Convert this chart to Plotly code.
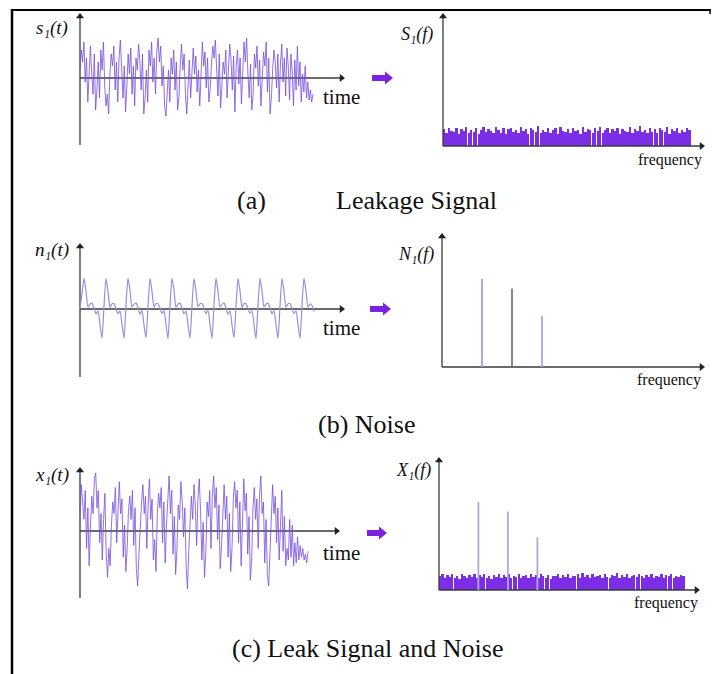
import plotly.graph_objects as go

W, H = 712, 674

# ---------------- data ----------------
s1_values = [0.2, 0.7, 0.4, 0.9, -0.1, 0.5, -0.6, 0.3, 0.8, 0.1, -0.4, 0.6, -0.8, -0.3, 0.4, -0.5, 0.7, 0.2, 0.9, -0.2,
             -0.7, -0.4, -0.9, 0.1, 0.6, 0.3, 0.8, -0.3, 0.4, -0.6, 0.5, 0.95, 0.2, -0.5, 0.3, -0.85, -0.2, 0.6, 0.1, 0.75,
             -0.4, 0.3, -0.7, 0.5, 0.2, 0.85, 0.4, -0.3, 0.6, -0.9, -0.5, 0.2, -0.6, 0.7, 0.3, 0.9, -0.1, 0.5, -0.4, 0.65,
             1.0, 0.4, 0.8, -0.2, 0.3, -0.7, -0.95, -0.4, 0.2, -0.6, 0.5, 0.1, 0.7, -0.3, 0.4, -0.8, -0.5, 0.3, 0.85, 0.2,
             0.6, -0.4, -0.9, -0.2, 0.45, -0.5, 0.3, 0.75, 0.1, 0.55, -0.35, 0.2, -0.7, 0.4, 0.9, 0.3, 0.65, -0.25, 0.5, -0.6,
             -0.3, 0.35, 0.8, 0.5, 0.95, 0.2, -0.45, 0.6, -0.75, -0.2, 0.4, 0.1, 0.7, -0.5, 0.25, 0.85, 0.45, -0.3, 0.55, -0.85,
             0.3, 0.7, -0.15, 0.5, -0.65, 0.2, 0.9, 0.4, 1.0, 0.1, -0.5, 0.35, -0.8, -0.4, 0.6, 0.25, 0.8, -0.2, 0.45, -0.7,
             0.15, 0.65, 0.3, 0.9, -0.35, 0.5, -0.9, -0.5, 0.2, 0.7, 0.4, -0.25, 0.6, -0.6, 0.35, 0.85, -0.1, 0.5, -0.45, 0.75,
             0.3, -0.55, 0.6, 0.2, -0.7, 0.45, -0.3, 0.8, -0.2, 0.4, -0.6, 0.1, -0.35, 0.3, -0.5, -0.1, -0.55, -0.3, -0.6, -0.4]

n1_values = [0.0, 0.5,
             1.0, 0.58, 0.06, 0.16, 0.19, 0.03, -0.16, -0.06, -0.52, -0.94, 0.10,
             0.98, 0.57, 0.05, 0.17, 0.18, 0.02, -0.15, -0.07, -0.50, -0.95, 0.12,
             1.0, 0.59, 0.07, 0.15, 0.20, 0.04, -0.17, -0.05, -0.53, -0.93, 0.09,
             0.99, 0.56, 0.06, 0.18, 0.17, 0.03, -0.14, -0.06, -0.51, -0.96, 0.11,
             1.0, 0.60, 0.05, 0.16, 0.19, 0.02, -0.16, -0.07, -0.52, -0.94, 0.10,
             0.98, 0.58, 0.07, 0.17, 0.18, 0.04, -0.15, -0.05, -0.50, -0.95, 0.12,
             1.0, 0.57, 0.06, 0.15, 0.20, 0.03, -0.17, -0.06, -0.53, -0.93, 0.09,
             0.99, 0.59, 0.05, 0.18, 0.17, 0.02, -0.14, -0.07, -0.51, -0.96, 0.11,
             1.0, 0.58, 0.07, 0.16, 0.19, 0.04, -0.16, -0.05, -0.52, -0.94, 0.10,
             0.98, 0.56, 0.06, 0.17, 0.18, 0.03, -0.15, -0.06, -0.50, -0.95, 0.12,
             1.0, 0.58, 0.06, 0.16, 0.12, -0.08]

x1_values = [0.3, 0.8, 0.5, 0.2, 0.7, -0.3, 0.4, -0.6, 0.1, 0.6, 0.3, 0.9, 1.0, 0.4, 0.7, -0.2, 0.3, -0.5, 0.2, 0.65,
             -0.4, -0.8, -0.3, -0.6, 0.1, 0.5, 0.3, 0.75, -0.2, 0.4, 0.85, 0.3, 0.55, -0.45, 0.1, -0.7, -0.3, 0.35, 0.6, 0.2,
             0.7, -0.25, 0.4, -0.65, -0.95, -0.4, 0.2, 0.5, 0.8, 0.3, 0.6, -0.3, 0.45, 0.9, 0.2, 0.55, -0.5, -0.15, -0.7, 0.3,
             0.65, 0.4, 0.75, -0.2, 0.5, -0.55, 0.1, 0.6, 0.95, 0.3, 0.7, -0.4, 0.25, -0.75, -0.3, 0.45, 0.2, 0.85, 0.5, -0.1,
             0.4, -0.6, -1.0, -0.35, 0.3, 0.6, 0.2, 0.8, 0.45, -0.25, 0.55, 0.9, 0.35, -0.5, 0.15, -0.8, -0.4, 0.5, 0.25, 0.7,
             -0.3, 0.6, 0.95, 0.4, 0.75, -0.15, 0.45, -0.65, -0.25, 0.35, 0.8, 0.2, 0.6, -0.45, 0.3, -0.7, -0.3, 0.55, 0.85, 0.4,
             0.7, -0.2, 0.5, -0.6, 0.1, 0.9, 0.35, 0.65, -0.4, 0.25, -0.85, -0.5, 0.4, 0.75, 0.2, 0.55, -0.3, 0.6, 0.95, 0.3,
             0.5, -0.55, 0.2, -0.75, -0.95, -0.3, 0.45, 0.8, 0.3, 0.6, -0.2, 0.4, -0.5, 0.15, 0.7, -0.35, 0.25, -0.6, -0.3, -0.5,
             0.2, -0.45, 0.1, -0.6, -0.2, -0.55, -0.1, -0.5, -0.25, -0.45, -0.3, -0.5, -0.4, -0.55, -0.35]

S1_spectrum = [1.05, 0.8, 1.15, 0.92, 0.85, 1.1, 0.78, 1.06, 0.95, 1.18, 0.82, 1.02, 0.9, 1.14, 0.76, 0.98, 1.16, 0.86, 1.08, 0.94,
               0.8, 1.2, 1.0, 0.84, 1.1, 0.75, 1.05, 1.15, 0.88, 0.97, 0.82, 1.17, 0.93, 1.06, 0.78, 1.12, 1.0, 0.86, 1.22, 0.81,
               1.03, 0.9, 1.13, 0.83, 1.0, 1.1, 0.76, 1.19, 0.96, 0.85, 1.07, 0.8, 1.14, 0.92, 1.03, 0.78, 1.16, 0.88, 1.05, 0.97,
               0.83, 1.1, 0.93, 1.2, 0.8, 1.01, 1.13, 0.84, 1.08, 0.91, 1.15, 0.77, 1.04, 0.96, 0.86, 1.17, 0.81, 1.09, 0.95, 1.26,
               0.85, 1.03, 0.79, 1.14, 0.9, 1.07, 0.82, 1.11, 0.99, 0.86, 1.16, 0.78, 1.05, 0.94, 1.1, 0.83, 1.02, 0.9, 1.12, 1.0]

X1_spectrum = [0.85, 1.0, 0.74, 0.92, 0.8, 1.02, 0.76, 0.9, 0.7, 0.97, 0.86, 0.75, 0.95, 0.8, 1.0, 0.72, 0.91, 0.82, 0.99, 0.77,
               0.88, 0.71, 0.96, 0.84, 1.03, 0.75, 0.92, 0.79, 0.98, 0.73, 0.9, 0.83, 1.0, 0.77, 0.87, 0.95, 0.72, 0.97, 0.81, 0.92,
               0.75, 0.99, 0.85, 0.78, 0.96, 0.71, 0.9, 0.87, 1.02, 0.77, 0.93, 0.8, 0.98, 0.74, 0.89, 0.85, 0.97, 0.76, 1.04, 0.82,
               0.91, 0.73, 0.99, 0.79, 0.9, 0.95, 0.76, 1.0, 0.84, 0.74, 0.94, 0.86, 1.06, 0.78, 0.91, 0.82, 0.98, 0.75, 0.88, 0.95,
               0.79, 1.02, 0.85, 0.72, 0.93, 0.83, 0.99, 0.77, 0.9, 0.81, 0.97, 0.74, 0.91, 0.86, 1.0, 0.78, 0.89, 0.82, 0.94, 0.85]

noise_peak_freqs = [16, 28, 40]
noise_peak_amps = [5.5, 4.9, 3.2]
mixed_peak_freqs = [16, 28, 40]
mixed_peak_amps = [5.5, 4.9, 3.3]

captions = ["(a)", "Leakage Signal", "(b) Noise", "(c) Leak Signal and Noise"]

# ---------------- helpers ----------------
SERIF = "Liberation Serif"
AXC = "#3a3a3a"
fig = go.Figure()
layout = dict(width=W, height=H, margin=dict(l=0, r=0, t=0, b=0),
              paper_bgcolor="white", plot_bgcolor="rgba(0,0,0,0)", showlegend=False)
annotations = []
shapes = []


def px(x):
    return x / W


def py(y):
    return 1 - y / H


def panel(i, ox, oy, xtip, ytop, ybot, sx, sy):
    """Axis pair i with origin at pixel (ox, oy); sx/sy = pixels per data unit; arrowed axes."""
    xl, xr = ox - 8, xtip + 6
    yt, yb = ytop - 6, ybot + 4
    xn = "xaxis" if i == 1 else f"xaxis{i}"
    yn = "yaxis" if i == 1 else f"yaxis{i}"
    xa = "x" if i == 1 else f"x{i}"
    ya = "y" if i == 1 else f"y{i}"
    hidden = dict(visible=False, showticklabels=False, showgrid=False, zeroline=False, fixedrange=True)
    layout[xn] = dict(domain=[px(xl), px(xr)], range=[(xl - ox) / sx, (xr - ox) / sx], anchor=ya, **hidden)
    layout[yn] = dict(domain=[py(yb), py(yt)], range=[-(yb - oy) / sy, (oy - yt) / sy], anchor=xa, **hidden)
    xend = (xtip - ox) / sx
    ytopv = (oy - ytop) / sy
    ybotv = -(ybot - oy) / sy
    fig.add_trace(go.Scatter(x=[0, xend - 3 / sx, None, 0, 0], y=[0, 0, None, ybotv, ytopv - 3 / sy],
                             mode="lines", xaxis=xa, yaxis=ya, hoverinfo="skip",
                             line=dict(color=AXC, width=1.3)))
    fig.add_trace(go.Scatter(x=[xend - 3.5 / sx, 0], y=[0, ytopv - 3.5 / sy], mode="markers",
                             xaxis=xa, yaxis=ya, hoverinfo="skip",
                             marker=dict(symbol=["triangle-right", "triangle-up"], size=7, color="#222",
                                         line=dict(width=0))))
    return xa, ya


def label(text, x, y, size, color="#111", italic=False):
    annotations.append(dict(x=px(x), y=py(y), xref="paper", yref="paper", text=text, showarrow=False,
                            font=dict(family=SERIF, size=size, color=color,
                                      style="italic" if italic else "normal"),
                            xanchor="center", yanchor="middle"))


def fat_arrow(x0, x1, yc):
    hx = x1 - 8
    pts = [(x0, yc - 3), (hx, yc - 3), (hx, yc - 6.5), (x1, yc), (hx, yc + 6.5), (hx, yc + 3), (x0, yc + 3)]
    path = "M " + " L ".join(f"{px(a):.5f},{py(b):.5f}" for a, b in pts) + " Z"
    shapes.append(dict(type="path", xref="paper", yref="paper", path=path,
                       fillcolor="#7a22e0", line=dict(width=0)))


SIG = "rgba(118,78,224,0.8)"
BAND = "#7b2ee6"

# ---------------- panel (a) ----------------
n = len(s1_values)
xa, ya = panel(1, 80, 78, 345, 13, 145, (313 - 80) / (n - 1), 40)
fig.add_trace(go.Scatter(x=list(range(n)), y=s1_values, mode="lines", xaxis=xa, yaxis=ya,
                         line=dict(color=SIG, width=1)))
xa, ya = panel(2, 443, 146, 705, 13, 146, 2.48, 16)
fig.add_trace(go.Bar(x=[k + 0.5 for k in range(len(S1_spectrum))], y=S1_spectrum, width=0.75,
                     xaxis=xa, yaxis=ya, marker=dict(color=BAND, line=dict(width=0))))

# ---------------- panel (b) ----------------
n = len(n1_values)
xa, ya = panel(3, 80, 309, 345, 243, 377, 2.0, 31)
fig.add_trace(go.Scatter(x=list(range(n)), y=n1_values, mode="lines", xaxis=xa, yaxis=ya,
                         line=dict(color="#9a8ce0", width=1.2, shape="spline", smoothing=0.6)))
xa, ya = panel(4, 442, 367, 705, 233, 367, 2.5, 16)
spike_cols = ["#a39ce4", "#7c7398", "#aaa2ea"]
for f, a, c in zip(noise_peak_freqs, noise_peak_amps, spike_cols):
    fig.add_trace(go.Scatter(x=[f, f], y=[0, a], mode="lines", xaxis=xa, yaxis=ya,
                             line=dict(color=c, width=1.8)))

# ---------------- panel (c) ----------------
n = len(x1_values)
xa, ya = panel(5, 80, 531, 340, 467, 598, (308 - 80) / (n - 1), 58)
fig.add_trace(go.Scatter(x=list(range(n)), y=x1_values, mode="lines", xaxis=xa, yaxis=ya,
                         line=dict(color=SIG, width=1)))
xa, ya = panel(6, 439, 590, 700, 457, 590, 2.46, 16)
for f, a in zip(mixed_peak_freqs, mixed_peak_amps):
    fig.add_trace(go.Scatter(x=[f, f], y=[0, a], mode="lines", xaxis=xa, yaxis=ya,
                             line=dict(color="#b0a8da", width=1.8)))
fig.add_trace(go.Bar(x=[k + 0.5 for k in range(len(X1_spectrum))], y=X1_spectrum, width=0.75,
                     xaxis=xa, yaxis=ya, marker=dict(color=BAND, line=dict(width=0))))

# ---------------- labels ----------------
label("s\u2081(t)", 52, 28, 19, italic=True)
label("time", 341, 97, 21)
label("S\u2081(f)", 417, 35, 18, italic=True)
label("frequency", 670, 160, 16)
label("n\u2081(t)", 52, 250, 19, italic=True)
label("time", 341, 328, 21)
label("N\u2081(f)", 416, 254, 18, italic=True)
label("frequency", 669, 380, 16)
label("x\u2081(t)", 52, 475, 19, italic=True)
label("time", 341, 553, 21)
label("X\u2081(f)", 413, 470, 18, italic=True)
label("frequency", 666, 603, 16)

label(captions[0], 251, 200, 26)
label(captions[1], 416, 200, 26)
label(captions[2], 366, 425, 26)
label(captions[3], 367, 648, 26)

fat_arrow(372, 393, 78)
fat_arrow(370, 391, 309)
fat_arrow(367, 387, 533)

# frame
shapes.append(dict(type="line", xref="paper", yref="paper", x0=px(12), x1=px(711), y0=py(10), y1=py(10),
                   line=dict(color="black", width=2)))
shapes.append(dict(type="line", xref="paper", yref="paper", x0=px(12), x1=px(12), y0=py(9), y1=py(674),
                   line=dict(color="black", width=2.5)))
shapes.append(dict(type="line", xref="paper", yref="paper", x0=px(710), x1=px(710), y0=py(10), y1=py(14),
                   line=dict(color="black", width=1.5)))

layout["annotations"] = annotations
layout["shapes"] = shapes
layout["bargap"] = 0
fig.update_layout(**layout)
fig.write_html("out.html")
